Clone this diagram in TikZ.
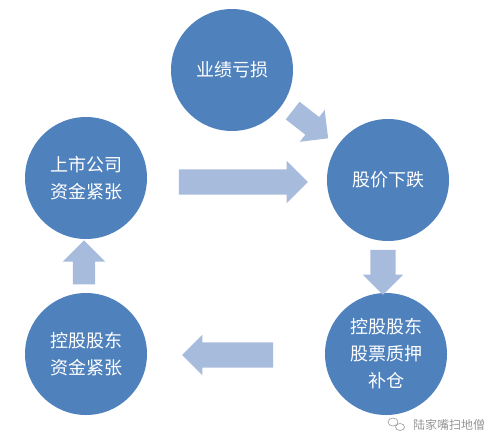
\documentclass[tikz,border=0pt]{standalone}
\usepackage{fontspec}
\newfontfamily\cjk{Noto Sans CJK SC}
\usetikzlibrary{shapes.arrows}
\definecolor{circblue}{RGB}{79,129,189}
\definecolor{arrowblue}{RGB}{167,187,220}
\definecolor{markgray}{RGB}{150,150,150}
\begin{document}
\begin{tikzpicture}[x=1pt,y=-1pt, main node/.style={circle,fill=circblue,text=white,minimum size=122pt,inner sep=0pt,font=\cjk\fontsize{18}{27}\selectfont,align=center}, block arrow/.style={single arrow,fill=arrowblue,inner xsep=0pt,inner ysep=12.5pt,single arrow head extend=8pt}]
  \useasboundingbox (0,0) rectangle (500,447);

  \node[main node] (loss) at (232,70) {业绩亏损};
  \node[main node] (firm) at (86,178) {上市公司\\资金紧张};
  \node[main node] (drop) at (388,180) {股价下跌};
  \node[main node] (pledge) at (386,354) {控股股东\\股票质押\\补仓};
  \node[main node] (owner) at (86,354) {控股股东\\资金紧张};

  % block arrows between the circles
  \node[block arrow,minimum height=45pt,inner ysep=11pt,single arrow head extend=9pt,rotate=-38] (a1) at (306,121) {};
  \node[block arrow,minimum height=129pt,single arrow head extend=8.5pt] (a2) at (237,182) {};
  \node[block arrow,minimum height=45pt,single arrow head extend=7.5pt,rotate=-90] (a3) at (383,266) {};
  \node[block arrow,minimum height=91pt,single arrow head extend=7.5pt,rotate=180] (a4) at (234,355) {};
  \node[block arrow,minimum height=44pt,inner ysep=11pt,single arrow head extend=10pt,rotate=90] (a5) at (84,268) {};

  % watermark
  \draw[markgray,line width=0.6pt] (393,422) ellipse (5pt and 4pt) (400,427) ellipse (4.5pt and 3.5pt);
  \node[text=markgray,font=\cjk\fontsize{12}{14}\selectfont,inner sep=0pt] (mark) at (449,425) {陆家嘴扫地僧};
\end{tikzpicture}
\end{document}
